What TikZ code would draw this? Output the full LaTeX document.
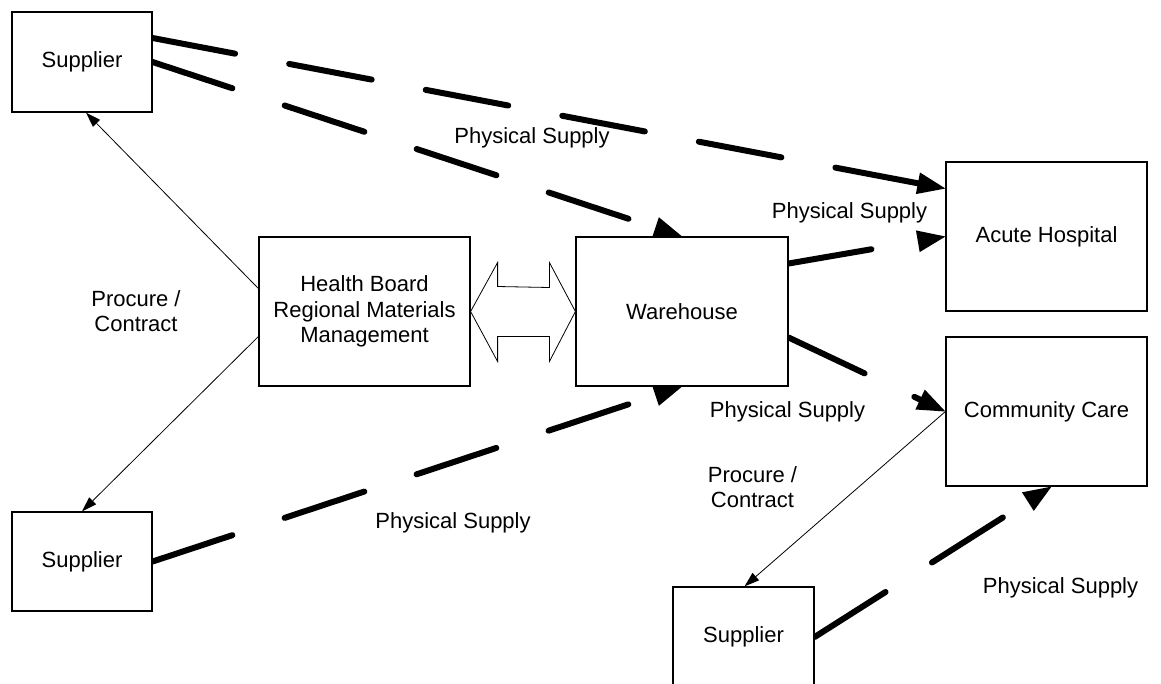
\documentclass[tikz,border=0pt]{standalone}
\usepackage{fontspec}
\setmainfont{Liberation Sans}
\usetikzlibrary{arrows.meta,calc,backgrounds}

\tikzset{
  box/.style={draw, fill=white, line width=1.2pt, inner sep=0pt, align=center},
  supply/.style={line width=6pt, line cap=round, dash pattern=on 84pt off 55pt,
    -{Triangle[length=28pt,width=22pt,line width=0pt]}},
  procure/.style={line width=0.8pt, -{Triangle[length=15pt,width=10pt,line width=0pt]}},
}

\begin{document}
\begin{tikzpicture}[x=1pt, y=-1pt, font=\fontsize{22}{25.5}\selectfont]
		\useasboundingbox (0,0) rectangle (1161,683);
		% boxes
		\node [box, minimum width=140pt, minimum height=100pt] (sup1) at (82,62) {Supplier};
		\node [box, minimum width=140pt, minimum height=99pt] (sup2) at (82,561.5) {Supplier};
		\node [box, minimum width=141pt, minimum height=100pt] (sup3) at (743.5,637) {Supplier};
		\node [box, minimum width=211pt, minimum height=149pt] (hb) at (364.5,311.5) {Health Board\\Regional Materials\\Management};
		\node [box, minimum width=212pt, minimum height=149pt] (wh) at (682,311.5) {Warehouse};
		\node [box, minimum width=201pt, minimum height=149pt] (ah) at (1046.5,236.5) {Acute Hospital};
		\node [box, minimum width=201pt, minimum height=149pt] (cc) at (1046.5,411.5) {Community Care};
		% labels
		\node (ps1) at (532,138) {Physical Supply};
		\node (ps2) at (849.5,213) {Physical Supply};
		\node (ps3) at (787.5,412) {Physical Supply};
		\node (ps4) at (453,523) {Physical Supply};
		\node (ps5) at (1060.5,588) {Physical Supply};
		\node [align=center] (pc1) at (136,311) {Procure /\\Contract};
		\node [align=center] (pc2) at (752.5,487) {Procure /\\Contract};
		% flows
		\begin{scope}[on background layer]
		\draw [supply] ([yshift=24pt]sup1.east) -- ([yshift=48pt]ah.west);
		\draw [supply] (sup1.east) -- (wh.north);
		\draw [supply] (sup2.east) -- (wh.south);
		\draw [supply] ([yshift=48pt]wh.east) -- (ah.west);
		\draw [supply] ([yshift=-26pt]wh.east) -- (cc.west);
		\draw [supply] (sup3.east) -- ([xshift=5pt]cc.south);
		\draw [procure] ([yshift=23pt]hb.west) -- ([xshift=4pt]sup1.south);
		\draw [procure] ([yshift=-25pt]hb.west) -- (sup2.north);
		\draw [procure] (cc.west) -- ([xshift=1pt]sup3.north);
		\end{scope}
		% two-way link
		\draw [line width=0.8pt, fill=white] (hb.east) -- ++(27,-49) -- ++(0,24)
			-- ($(wh.west)+(-26,-24)$) -- ++(0,-25) -- (wh.west) -- ++(-26,50) -- ++(0,-25)
			-- ($(hb.east)+(27,25)$) -- ++(0,25) -- cycle;
	\end{tikzpicture}
\end{document}
